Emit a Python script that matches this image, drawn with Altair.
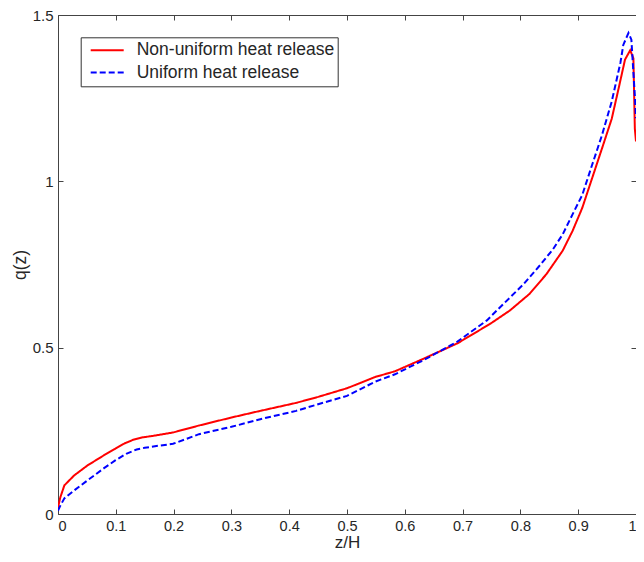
import altair as alt
import pandas as pd

# ---- data ----
series_names = ["Non-uniform heat release", "Uniform heat release"]

z_nonuniform = [0.000, 0.004, 0.011, 0.028, 0.051, 0.079, 0.099, 0.115, 0.130, 0.145,
                0.165, 0.199, 0.244, 0.300, 0.350, 0.412, 0.450, 0.500, 0.549, 0.583,
                0.634, 0.691, 0.748, 0.782, 0.816, 0.845, 0.873, 0.890, 0.907, 0.924,
                0.941, 0.958, 0.970, 0.981, 0.990, 0.9955, 0.998, 1.000]
q_nonuniform = [0.020, 0.050, 0.086, 0.116, 0.146, 0.176, 0.196, 0.212, 0.223, 0.230,
                0.235, 0.245, 0.266, 0.290, 0.310, 0.334, 0.352, 0.378, 0.412, 0.429,
                0.468, 0.513, 0.572, 0.612, 0.662, 0.721, 0.791, 0.850, 0.920, 1.009,
                1.098, 1.188, 1.280, 1.366, 1.394, 1.370, 1.158, 1.120]

z_uniform = [0.000, 0.004, 0.011, 0.028, 0.051, 0.079, 0.099, 0.118, 0.136, 0.150,
             0.165, 0.199, 0.244, 0.300, 0.350, 0.412, 0.450, 0.500, 0.549, 0.583,
             0.634, 0.691, 0.742, 0.771, 0.805, 0.834, 0.856, 0.873, 0.890, 0.907,
             0.924, 0.941, 0.958, 0.973, 0.978, 0.987, 0.992, 0.998, 1.000]
q_uniform = [0.010, 0.025, 0.047, 0.071, 0.101, 0.137, 0.161, 0.181, 0.194, 0.199,
             0.203, 0.211, 0.240, 0.262, 0.285, 0.310, 0.330, 0.355, 0.398, 0.420,
             0.464, 0.518, 0.582, 0.632, 0.690, 0.748, 0.795, 0.840, 0.900, 0.959,
             1.049, 1.138, 1.240, 1.356, 1.410, 1.446, 1.426, 1.257, 1.190]

x_ticks = [0, 0.1, 0.2, 0.3, 0.4, 0.5, 0.6, 0.7, 0.8, 0.9, 1]
y_ticks = [0, 0.5, 1, 1.5]

df = pd.concat([
    pd.DataFrame({"z": z_nonuniform, "q": q_nonuniform, "series": series_names[0],
                  "i": range(len(z_nonuniform))}),
    pd.DataFrame({"z": z_uniform, "q": q_uniform, "series": series_names[1],
                  "i": range(len(z_uniform))}),
], ignore_index=True)

FONT = "Liberation Sans"
TXT = "#262626"
AX = "#444444"

xs = alt.Scale(domain=[0, 1], nice=False, zero=False)
ys = alt.Scale(domain=[0, 1.5], nice=False, zero=False)

base = alt.Chart(df)

# inward ticks, bottom + left
ticks_bl = base.mark_point(opacity=0).encode(
    x=alt.X("z:Q", scale=xs, axis=alt.Axis(orient="bottom", values=x_ticks, labels=False,
                                           domain=False, ticks=True, tickSize=5, offset=-5,
                                           title=None, grid=False)),
    y=alt.Y("q:Q", scale=ys, axis=alt.Axis(orient="left", values=y_ticks, labels=False,
                                           domain=False, ticks=True, tickSize=5, offset=-5,
                                           title=None, grid=False)),
)

# inward ticks, top + right
ticks_tr = base.mark_point(opacity=0).encode(
    x=alt.X("z:Q", scale=xs, axis=alt.Axis(orient="top", values=x_ticks, labels=False,
                                           domain=False, ticks=True, tickSize=5, offset=-5,
                                           title=None, grid=False)),
    y=alt.Y("q:Q", scale=ys, axis=alt.Axis(orient="right", values=y_ticks, labels=False,
                                           domain=False, ticks=True, tickSize=5, offset=-5,
                                           title=None, grid=False)),
)

leg = alt.Legend(title=None, orient="none", legendX=22.7, legendY=22.3, direction="vertical",
                 strokeColor="#333333", fillColor="white", padding=3,
                 symbolType="stroke", symbolSize=1089, symbolStrokeWidth=2, symbolOffset=6,
                 labelOffset=12, labelFontSize=17.5, labelFont=FONT, labelColor=TXT,
                 clipHeight=20, rowPadding=2.2, labelLimit=400)

lines = base.mark_line(strokeWidth=2, clip=True).encode(
    x=alt.X("z:Q", scale=xs, axis=alt.Axis(orient="bottom", values=x_ticks, format="~g",
                                           domain=False, ticks=False, tickSize=0,
                                           labelPadding=5, labelFontSize=14.5,
                                           title="z/H", titleFontSize=17, titlePadding=2,
                                           grid=False)),
    y=alt.Y("q:Q", scale=ys, axis=alt.Axis(orient="left", values=y_ticks, format="~g",
                                           domain=False, ticks=False, tickSize=0,
                                           labelPadding=5, labelFontSize=15,
                                           title="q(z)", titleFontSize=17.5, titlePadding=3,
                                           grid=False)),
    color=alt.Color("series:N", scale=alt.Scale(domain=series_names, range=["#ff0000", "#0000ff"]),
                    legend=leg),
    strokeDash=alt.StrokeDash("series:N", scale=alt.Scale(domain=series_names, range=[[1, 0], [6, 3]]),
                              legend=leg),
    order="i:Q",
)

chart = alt.layer(ticks_bl, ticks_tr, lines).resolve_axis(
    x="independent", y="independent"
).properties(
    width=578, height=499,
    autosize=alt.AutoSizeParams(type="none"),
    padding={"left": 50, "top": 7, "right": 0, "bottom": 40},
    background="white",
).configure_view(
    stroke=AX, strokeWidth=1
).configure_axis(
    labelFont=FONT, titleFont=FONT, labelColor=TXT, titleColor=TXT,
    titleFontWeight="normal", tickColor=AX, tickWidth=1
)

chart.save("out.html", embed_options={"renderer": "svg", "actions": False})
